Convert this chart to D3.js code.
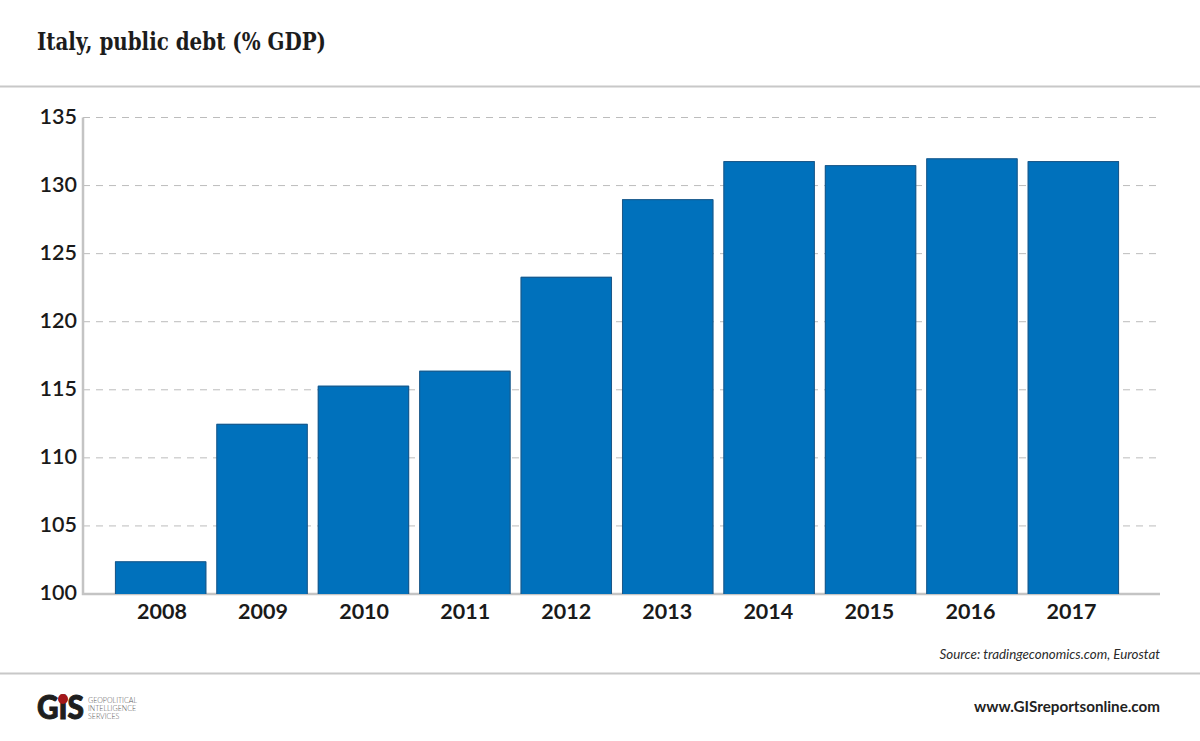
<!DOCTYPE html>
<html>
<head>
<meta charset="utf-8">
<script src="https://cdn.jsdelivr.net/npm/d3@7"></script>
<style>
    html, body { margin: 0; padding: 0; background: #fff; }
    svg { display: block; }
    text { font-family: Lato, sans-serif; }
</style>
</head>
<body>
<svg id="chart" width="1200" height="741"></svg>
<script>
const years = ['2008', '2009', '2010', '2011', '2012', '2013', '2014', '2015', '2016', '2017']
const debt = [102.4, 112.5, 115.3, 116.4, 123.3, 129, 131.8, 131.5, 132, 131.8]
const yTicks = [100, 105, 110, 115, 120, 125, 130, 135]
const logoLines = ['GEOPOLITICAL', 'INTELLIGENCE', 'SERVICES']

const svg = d3.select('#chart')
const axisLeft = 83, axisRight = 1160

const x = d3.scaleBand().domain(years).range([115, 1119]).paddingInner(0.1).paddingOuter(0)
const y = d3.scaleLinear().domain([100, 135]).range([594, 117.5])
// the year labels sit on a slightly tighter spacing than the bars
const xLabel = d3.scalePoint().domain(years).range([162, 1071.5])

// header and footer rules
svg.selectAll('.rule')
    .data([86.5, 673.5])
    .join('line')
    .attr('x1', 0).attr('x2', 1200)
    .attr('y1', d => d).attr('y2', d => d)
    .attr('stroke', '#c8c8c8').attr('stroke-width', 2)

svg.append('text')
    .attr('x', 37).attr('y', 50)
    .attr('font-size', 23.5).attr('font-weight', 700)
    .style('font-family', '"DejaVu Serif", serif')
    .attr('textLength', 289).attr('lengthAdjust', 'spacingAndGlyphs')
    .attr('fill', '#1c1c1c')
    .text('Italy, public debt (% GDP)')

// gridlines
svg.append('g').selectAll('line')
    .data(yTicks.slice(1))
    .join('line')
    .attr('x1', axisLeft).attr('x2', axisRight)
    .attr('y1', d => y(d)).attr('y2', d => y(d))
    .attr('stroke', '#bcbcbc').attr('stroke-width', 1)
    .attr('stroke-dasharray', '7 6')

// axis lines
svg.append('path')
    .attr('d', `M${axisLeft},${y(135)}V${y(100)}H${axisRight}`)
    .attr('fill', 'none').attr('stroke', '#c4c4c4').attr('stroke-width', 2.5)

// bars
svg.append('g').selectAll('rect')
    .data(debt)
    .join('rect')
    .attr('x', (d, i) => x(years[i]))
    .attr('y', d => y(d))
    .attr('width', x.bandwidth())
    .attr('height', d => y(100) - y(d))
    .attr('fill', '#0071bc')

// dark edge along the top and sides of each bar
svg.append('g').selectAll('path')
    .data(debt)
    .join('path')
    .attr('d', (d, i) => {
        const left = x(years[i]) + 0.4, right = x(years[i]) + x.bandwidth() - 0.4
        return `M${left},${y(100)}V${y(d) + 0.5}H${right}V${y(100)}`
    })
    .attr('fill', 'none')
    .attr('stroke', '#1f5480').attr('stroke-width', 0.9)

svg.append('g').selectAll('text')
    .data(yTicks)
    .join('text')
    .attr('x', 77).attr('y', d => y(d))
    .attr('dy', '0.3em')
    .attr('text-anchor', 'end')
    .attr('font-size', 21.5).attr('font-weight', 600)
    .attr('fill', '#1a1a1a')
    .text(d => d)

svg.append('g').selectAll('text')
    .data(years)
    .join('text')
    .attr('x', d => xLabel(d))
    .attr('y', 619)
    .attr('text-anchor', 'middle')
    .attr('font-size', 21.5).attr('font-weight', 700)
    .attr('fill', '#1a1a1a')
    .text(d => d)

svg.append('text')
    .attr('x', 1160).attr('y', 659)
    .attr('text-anchor', 'end')
    .attr('font-size', 13.35).attr('font-style', 'italic')
    .attr('fill', '#2a2a2a')
    .text('Source: tradingeconomics.com, Eurostat')

svg.append('text')
    .attr('x', 1160).attr('y', 712)
    .attr('text-anchor', 'end')
    .attr('font-size', 15.2).attr('font-weight', 700)
    .attr('fill', '#222')
    .text('www.GISreportsonline.com')

// logo
const logo = svg.append('g').attr('transform', 'translate(36,719)')
logo.append('text')
    .attr('x', 1)
    .attr('font-size', 32).attr('font-weight', 900)
    .attr('textLength', 47).attr('lengthAdjust', 'spacingAndGlyphs')
    .attr('fill', '#1e1e1e')
    .attr('stroke', '#1e1e1e').attr('stroke-width', 1)
    .text('GIS')
logo.append('circle')
    .attr('cx', 27).attr('cy', -20).attr('r', 5)
    .attr('fill', '#a3161a')
logo.append('g').selectAll('text')
    .data(logoLines)
    .join('text')
    .attr('x', 52)
    .attr('y', (d, i) => -16 + i * 8)
    .attr('font-size', 7.1).attr('font-weight', 300)
    .attr('fill', '#555')
    .text(d => d)
</script>
</body>
</html>
